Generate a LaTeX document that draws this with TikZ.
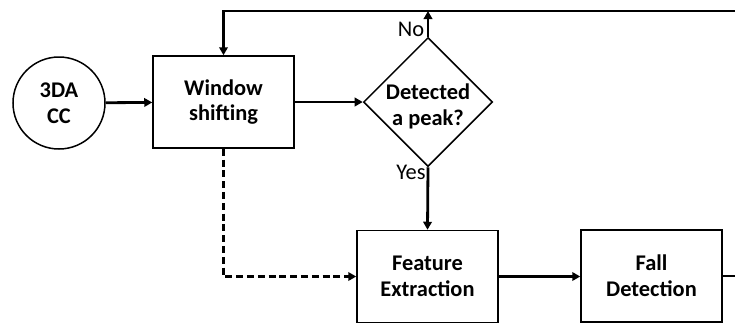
\documentclass[tikz,border=0pt]{standalone}
\usepackage{fontspec}
\setmainfont{Carlito}
\usetikzlibrary{arrows.meta,shapes.geometric}
\begin{document}
\begin{tikzpicture}[x=1bp,y=-1bp,
  bfont/.style={font=\bfseries\fontsize{22.5}{26}\selectfont},
  box/.style={draw,line width=1.5bp,minimum width=141bp,minimum height=92bp,
    inner sep=0pt,align=center,bfont},
  flow/.style={line width=2.8bp,-{Triangle[length=8bp,width=8.5bp]}},
  lbl/.style={font=\fontsize{22.5}{26}\selectfont,inner sep=0pt}]
\useasboundingbox (0,0) rectangle (735,325);

% blocks
\node (src) [circle,draw,line width=1.5bp,minimum size=92bp,inner sep=0pt,
  align=center,bfont] at (59,103) {3DA\\CC};
\node (win) [box] at (223.5,102) {Window\\shifting};
\node (dec) [diamond,draw,line width=1.5bp,minimum width=129bp,
  minimum height=129bp,inner sep=0pt] at (428,102) {};
\node (dectxt) [bfont,align=center,inner sep=0pt] at (428,106) {Detected\\a peak?};
\node (fe) [box] at (427.5,276.5) {Feature\\Extraction};
\node (fd) [box] at (651.5,276) {Fall\\Detection};

% branch labels
\node (no) [lbl] at (411,29) {No};
\node (yes) [lbl] at (411,172) {Yes};

% return loop runs past the right edge
\coordinate (ret) at (760,11);

% connectors
\draw[flow] (src) -- (win);
\draw[flow] (win) -- (dec);
\draw[flow] (dec.north) -- (dec.north |- ret);
\draw[flow] (dec.south) -- (fe.north);
\draw[flow] (fe.east) -- (fd.west |- fe.east);
\draw[flow,line join=miter] (fd.east) -- (fd.east -| ret) -- (ret)
  -- (win.north |- ret) -- (win.north);
\draw[flow,dash pattern=on 7bp off 3.8bp] (win.south) -- (win.south |- fe.west)
  -- (fe.west);
\end{tikzpicture}
\end{document}
